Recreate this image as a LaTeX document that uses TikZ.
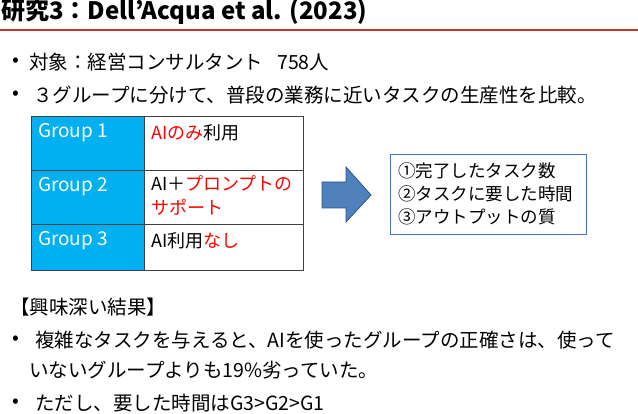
\documentclass[tikz,border=0pt]{standalone}
\usepackage{fontspec}
\setmainfont{Noto Sans CJK JP}
\usepackage{xcolor}
\definecolor{xred}{HTML}{C0392B}
\definecolor{xcyan}{HTML}{00B0F0}
\definecolor{xarrow}{HTML}{4F81BD}
\definecolor{xarrowline}{HTML}{2F528F}
\definecolor{xbox}{HTML}{4472C4}
\tikzset{
  %% Styles %%
  bodytext/.style = {anchor=west, inner sep=0, font=\fontsize{19.5}{24}\selectfont},
  bulletdot/.style = {anchor=center, inner sep=0, font=\fontsize{20}{24}\selectfont},
  groupcell/.style = {draw=black!75, thick, fill=xcyan},
  usecell/.style = {draw=black!75, thick, fill=white},
  celltext/.style = {anchor=west, inner sep=0, align=left, font=\fontsize{18}{24}\selectfont},
}
\begin{document}
\begin{tikzpicture}[x=1pt, y=-1pt]
    \useasboundingbox (0,0) rectangle (638,414);
    % title
    \node[anchor=west, inner sep=0, font=\bfseries\fontsize{24}{28}\selectfont] (title) at (1,12) {研究3：Dell’Acqua et al. (2023)};
    \draw[xred, line width=1.5pt] (0,30) -- (638,30);
    % bullets
    \node[bulletdot] (d1) at (16,62) {•};
    \node[bodytext] (b1) at (29,62) {対象：経営コンサルタント\hspace{14pt}758人};
    \node[bulletdot] (d2) at (16,95) {•};
    \node[bodytext] (b2) at (33,95) {３グループに分けて、普段の業務に近いタスクの生産性を比較。};
    % table
    \foreach \y/\h [count=\k] in {116/170, 170/224, 224/270} {
        \draw[groupcell] (31,\y) rectangle (144,\h);
        \draw[usecell] (144,\y) rectangle (303,\h);
        \node[celltext, text=white, font=\fontsize{19}{24}\selectfont] (g\k) at (38,\y+17) {Group \k};
    }
    \node[celltext] (u1) at (151,133) {\textcolor{red}{AIのみ}利用};
    \node[celltext, anchor=north west] (u2) at (151,175) {AI＋\textcolor{red}{プロンプトの}\\\textcolor{red}{サポート}};
    \node[celltext] (u3) at (151,241) {AI利用\textcolor{red}{なし}};
    % arrow and outcome box
    \draw[xarrowline, fill=xarrow, thick] (322,182) -- (346,182) -- (346,167) -- (371,195)
        -- (346,222) -- (346,208) -- (322,208) -- cycle;
    \draw[xbox, thick] (390,154) rectangle (586,234);
    \node[celltext, font=\fontsize{17.5}{23}\selectfont] (res) at (398,194)
        {①完了したタスク数\\②タスクに要した時間\\③アウトプットの質};
    % results
    \node[bodytext] (hd) at (10,307) {【興味深い結果】};
    \node[bulletdot] (d3) at (16,340) {•};
    \node[bodytext] (c1) at (35,340) {複雑なタスクを与えると、AIを使ったグループの正確さは、使って};
    \node[bodytext] (c2) at (29,370) {いないグループよりも19\%劣っていた。};
    \node[bulletdot] (d4) at (16,403) {•};
    \node[bodytext] (c3) at (35,403) {ただし、要した時間はG3>G2>G1};
\end{tikzpicture}
\end{document}
